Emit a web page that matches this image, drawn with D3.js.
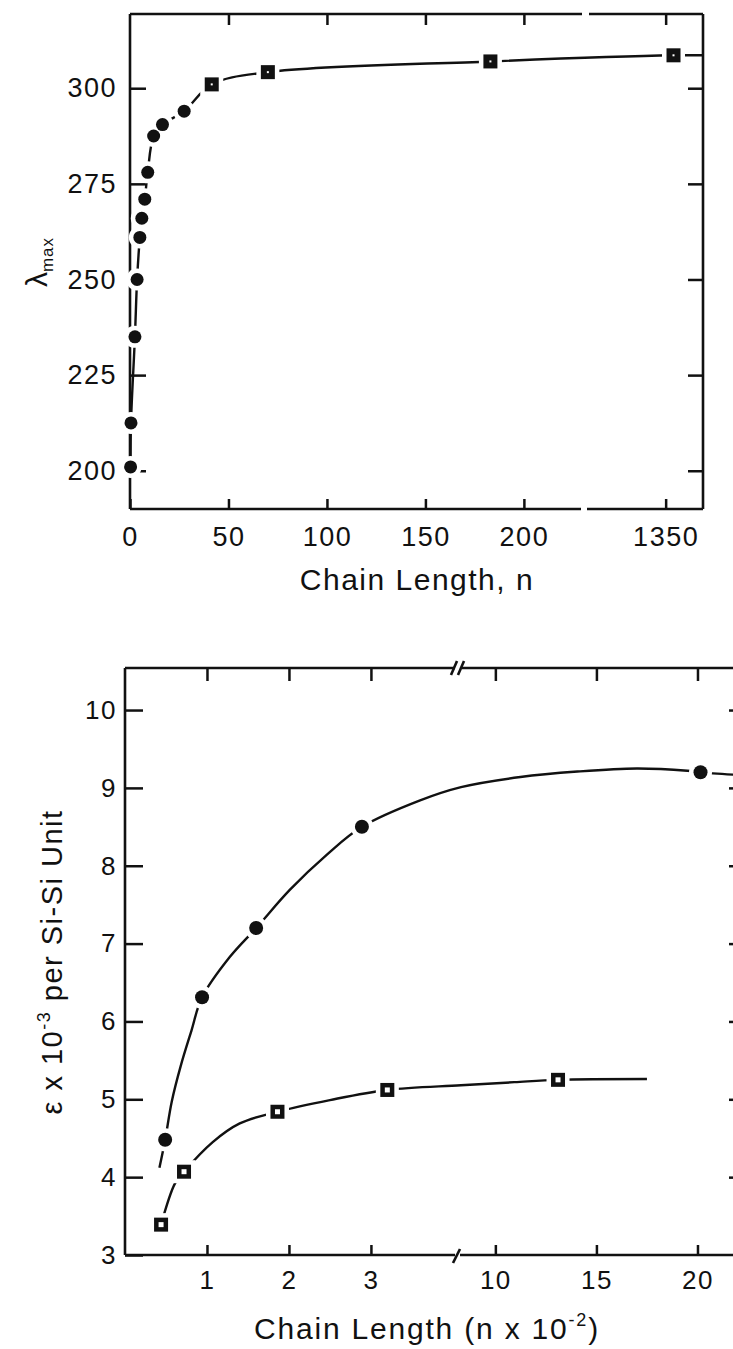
<!DOCTYPE html>
<html>
<head>
<meta charset="utf-8">
<script src="https://cdn.jsdelivr.net/npm/d3@7"></script>
<style>
body { margin: 0; background: #fff; }
svg { display: block; background: #fff; }
text { font-family: "Liberation Sans", Arial, Helvetica, sans-serif; fill: #111; }
</style>
</head>
<body>
<svg width="733" height="1349"></svg>
<script>
// top panel: lambda max vs chain length
var topCircN = [0.3, 0.5, 2.5, 3.6, 5, 6, 7.5, 9, 12, 16.5, 27.5];
var topCircL = [201, 212.5, 235, 250, 261, 266, 271, 278, 287.5, 290.5, 294];
var topSqN = [41.5, 70, 183, 1354];
var topSqL = [301, 304.2, 307, 308.6];
var topXTicks = [0, 50, 100, 150, 200, 1350];
var topYTicks = [200, 225, 250, 275, 300];

// bottom panel: epsilon per Si-Si unit vs chain length (n x 10^-2)
var botCircN = [0.49, 0.94, 1.6, 2.89, 20.15];
var botCircE = [4.48, 6.31, 7.2, 8.5, 9.2];
var botSqN = [0.44, 0.72, 1.86, 3.2, 13.1];
var botSqE = [3.39, 4.07, 4.84, 5.12, 5.25];
// the hand drawn curves
var fitCircN = [0.42, 0.49, 0.57, 0.68, 0.81, 0.94, 1.28, 1.6, 2.01, 2.46, 2.89, 3.6, 8.3, 11.24, 14.06, 17.0, 19.5, 20.15, 21.8];
var fitCircE = [4.12, 4.48, 4.97, 5.43, 5.88, 6.31, 6.83, 7.2, 7.69, 8.14, 8.5, 8.84, 9.01, 9.14, 9.21, 9.25, 9.22, 9.2, 9.17];
var fitSqN = [0.44, 0.61, 0.72, 1.07, 1.4, 1.86, 2.5, 3.2, 8.27, 10.94, 13.1, 17.5];
var fitSqE = [3.39, 3.92, 4.07, 4.45, 4.69, 4.84, 4.99, 5.12, 5.18, 5.22, 5.25, 5.26];
var botXTicks = [1, 2, 3, 10, 15, 20];
var botYTicks = [3, 4, 5, 6, 7, 8, 9, 10];

var svg = d3.select("svg");
var ink = "#111";

function zip(a, b) { return a.map(function (v, i) { return [v, b[i]]; }); }

function styleAxis(g, fs) {
    g.select(".domain").remove();
    g.selectAll(".tick line").attr("stroke", ink).attr("stroke-width", 2.5);
    g.selectAll(".tick text").attr("font-size", fs).attr("letter-spacing", 1.5).attr("fill", ink);
}

function frameLine(pts) {
    svg.append("path")
        .attr("d", d3.line()(pts))
        .attr("fill", "none")
        .attr("stroke", ink)
        .attr("stroke-width", 2.6);
}

function drawCurve(x, y, pts) {
    var line = d3.line()
        .x(function (d) { return x(d[0]); })
        .y(function (d) { return y(d[1]); })
        .curve(d3.curveCatmullRom.alpha(0.5));
    svg.append("path")
        .attr("d", line(pts))
        .attr("fill", "none")
        .attr("stroke", ink)
        .attr("stroke-width", 2.4);
}

function drawCircles(x, y, pts, r) {
    svg.append("g").selectAll("circle").data(pts).enter().append("circle")
        .attr("cx", function (d) { return x(d[0]); })
        .attr("cy", function (d) { return y(d[1]); })
        .attr("r", r + 4.5).attr("fill", "#fff");
    svg.append("g").selectAll("circle").data(pts).enter().append("circle")
        .attr("cx", function (d) { return x(d[0]); })
        .attr("cy", function (d) { return y(d[1]); })
        .attr("r", r).attr("fill", ink);
}

function drawSquares(x, y, pts, s, hole) {
    svg.append("g").selectAll("rect").data(pts).enter().append("rect")
        .attr("x", function (d) { return x(d[0]) - s / 2 - 4.5; })
        .attr("y", function (d) { return y(d[1]) - s / 2 - 4.5; })
        .attr("width", s + 9).attr("height", s + 9).attr("fill", "#fff");
    svg.append("g").selectAll("rect").data(pts).enter().append("rect")
        .attr("x", function (d) { return x(d[0]) - s / 2; })
        .attr("y", function (d) { return y(d[1]) - s / 2; })
        .attr("width", s).attr("height", s).attr("fill", ink);
    svg.append("g").selectAll("rect").data(pts).enter().append("rect")
        .attr("x", function (d) { return x(d[0]) - hole / 2; })
        .attr("y", function (d) { return y(d[1]) - hole / 2; })
        .attr("width", hole).attr("height", hole).attr("fill", "#fff");
}

/* ---------- top panel ---------- */
var xTop = d3.scaleLinear().domain([0, 229, 1310, 1369]).range([130, 581, 587, 703]);
var yTop = d3.scaleLinear().domain([190, 319.4]).range([509, 14]);

var tL = xTop(0), tR = xTop(1369), tT = yTop(319.4), tB = yTop(190);
frameLine([[tL, tT], [tL, tB]]);
frameLine([[tR, tT], [tR, tB]]);
frameLine([[tL, tT], [xTop(229) + 1, tT]]);
frameLine([[xTop(1310) + 2, tT], [tR, tT]]);
frameLine([[tL, tB], [xTop(229), tB]]);
frameLine([[xTop(1310), tB], [tR, tB]]);

svg.append("g").attr("transform", "translate(" + tL + ",0)")
    .call(d3.axisLeft(yTop).tickValues(topYTicks).tickSize(-16).tickPadding(13))
    .call(styleAxis, 27);
svg.append("g").attr("transform", "translate(" + tR + ",0)")
    .call(d3.axisRight(yTop).tickValues(topYTicks).tickSize(-15).tickFormat(""))
    .call(styleAxis, 27);
svg.append("g").attr("transform", "translate(0," + tB + ")")
    .call(d3.axisBottom(xTop).tickValues(topXTicks).tickSize(-10).tickPadding(18).tickFormat(d3.format("d")))
    .call(styleAxis, 27);
svg.append("g").attr("transform", "translate(0," + tT + ")")
    .call(d3.axisTop(xTop).tickValues(topXTicks.slice(1)).tickSize(-11).tickFormat(""))
    .call(styleAxis, 27);

var topCirc = zip(topCircN, topCircL);
var topSq = zip(topSqN, topSqL);
var topAll = topCirc.concat(topSq);
topAll.push([xTop.domain()[3], topSqL[topSqL.length - 1]]);
drawCurve(xTop, yTop, topAll);
drawCircles(xTop, yTop, topCirc, 6.5);
drawSquares(xTop, yTop, topSq, 14, 2);

svg.append("text")
    .attr("x", 417).attr("y", 590)
    .attr("text-anchor", "middle")
    .attr("font-size", 30).attr("letter-spacing", 1.5)
    .text("Chain Length, n");

var lam = svg.append("text")
    .attr("transform", "translate(47,262) rotate(-90)")
    .attr("text-anchor", "middle")
    .attr("font-size", 30);
lam.append("tspan").text("λ");
lam.append("tspan").attr("font-size", 17).attr("dy", 6).attr("letter-spacing", 1).text("max");

/* ---------- bottom panel ---------- */
var xBot = d3.scaleLinear().domain([0, 4.05, 8.3, 22.45]).range([125, 457, 461, 747]);
var yBot = d3.scaleLinear().domain([3, 10.54]).range([1255, 668]);

var bL = xBot(0), bR = xBot(22.45), bT = yBot(10.54), bB = yBot(3);
frameLine([[bL, bT], [bL, bB]]);
frameLine([[bR, bT], [bR, bB]]);
frameLine([[bL, bT], [xBot(4.05) - 2, bT]]);
frameLine([[xBot(8.3) + 1, bT], [bR, bT]]);
frameLine([[bL, bB], [xBot(4.05) - 2, bB]]);
frameLine([[xBot(8.3) - 1, bB], [bR, bB]]);
// break marks
var bx = xBot(4.05);
frameLine([[bx - 6, bT + 7], [bx, bT - 7]]);
frameLine([[bx + 1, bT + 7], [bx + 7, bT - 7]]);
frameLine([[bx - 4, bB + 8], [bx + 3, bB - 6]]);

svg.append("g").attr("transform", "translate(" + bL + ",0)")
    .call(d3.axisLeft(yBot).tickValues(botYTicks).tickSize(-18).tickPadding(8))
    .call(styleAxis, 26);
svg.append("g").attr("transform", "translate(" + bR + ",0)")
    .call(d3.axisRight(yBot).tickValues(botYTicks.slice(1)).tickSize(-18).tickFormat(""))
    .call(styleAxis, 26);
svg.append("g").attr("transform", "translate(0," + bB + ")")
    .call(d3.axisBottom(xBot).tickValues(botXTicks).tickSize(-10).tickPadding(16))
    .call(styleAxis, 26);
svg.append("g").attr("transform", "translate(0," + bT + ")")
    .call(d3.axisTop(xBot).tickValues(botXTicks).tickSize(-13).tickFormat(""))
    .call(styleAxis, 26);

drawCurve(xBot, yBot, zip(fitCircN, fitCircE));
drawCurve(xBot, yBot, zip(fitSqN, fitSqE));
drawCircles(xBot, yBot, zip(botCircN, botCircE), 7);
drawSquares(xBot, yBot, zip(botSqN, botSqE), 14, 5);

var xt = svg.append("text")
    .attr("x", 427).attr("y", 1339)
    .attr("text-anchor", "middle")
    .attr("font-size", 30).attr("letter-spacing", 1.8);
xt.append("tspan").text("Chain Length (n x 10");
xt.append("tspan").attr("font-size", 18).attr("dy", -13).text("-2");
xt.append("tspan").attr("dy", 13).text(")");

var yt = svg.append("text")
    .attr("transform", "translate(62,962) rotate(-90)")
    .attr("text-anchor", "middle")
    .attr("font-size", 29).attr("letter-spacing", 1.5);
yt.append("tspan").text("ε x 10");
yt.append("tspan").attr("font-size", 18).attr("dy", -12).text("-3");
yt.append("tspan").attr("dy", 12).text(" per Si-Si Unit");
</script>
</body>
</html>
